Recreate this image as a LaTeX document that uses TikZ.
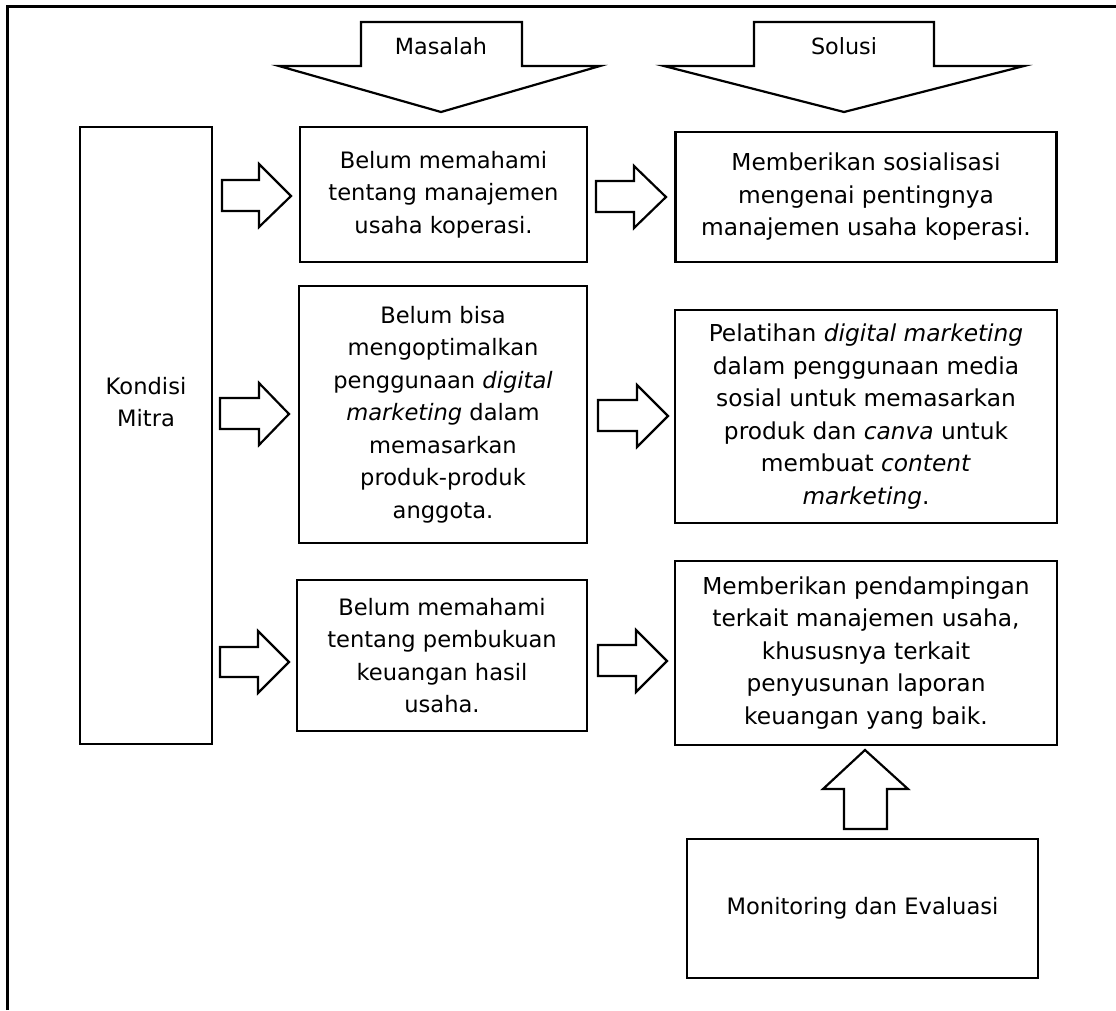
\documentclass[tikz,border=0pt]{standalone}
\usepackage{fontspec}
\setmainfont{DejaVu Sans}
\newcommand{\mfont}{\fontsize{22.6pt}{32.5pt}\selectfont}
\newcommand{\sfontx}{\fontsize{23.3pt}{32.5pt}\selectfont}
\newcommand{\lfont}{\fontsize{22.3pt}{26pt}\selectfont}
\begin{document}
\begin{tikzpicture}[x=1pt,y=-1pt,
  box/.style={draw, line width=2.2pt, align=center, inner sep=0pt},
  barrow/.style={draw, line width=2.2pt, fill=white, line join=miter},
  frame/.style={line width=3pt}]
\useasboundingbox (0,0) rectangle (1116,1010);
% outer frame (top and left only)
\draw[frame] (7,1010) -- (7,6) -- (1116,6);

% top block arrows
\draw[barrow] (361,22) -- (522,22) -- (522,66) -- (600,66) -- (441,112) -- (279,66) -- (361,66) -- cycle;
\node[font=\lfont] (lm) at (441,46) {Masalah};
\draw[barrow] (754,22) -- (934,22) -- (934,66) -- (1024,66) -- (844,112) -- (664,66) -- (754,66) -- cycle;
\node[font=\lfont] (ls) at (844,46) {Solusi};

% boxes
\node[box, minimum width=132pt, minimum height=617pt] (k) at (146,435.5) {};
\node[font=\mfont, align=center] (kt) at (146,402) {Kondisi\\Mitra};

\node[box, font=\mfont, minimum width=287pt, minimum height=135pt] (m1) at (443.5,194.5)
  {Belum memahami\\tentang manajemen\\usaha koperasi.};
\node[box, font=\mfont, minimum width=288pt, minimum height=257pt] (m2) at (443,414.5)
  {Belum bisa\\mengoptimalkan\\penggunaan \textit{digital}\\\textit{marketing} dalam\\memasarkan\\produk-produk\\anggota.};
\node[box, font=\mfont, minimum width=290pt, minimum height=151pt] (m3) at (442,655.5)
  {Belum memahami\\tentang pembukuan\\keuangan hasil\\usaha.};

\node[box, font=\sfontx, minimum width=381pt, minimum height=130pt] (s1) at (866,197)
  {Memberikan sosialisasi\\mengenai pentingnya\\manajemen usaha koperasi.};
\node[box, font=\sfontx, minimum width=382pt, minimum height=213pt] (s2) at (866,416.5)
  {Pelatihan \textit{digital marketing}\\dalam penggunaan media\\sosial untuk memasarkan\\produk dan \textit{canva} untuk\\membuat \textit{content}\\\textit{marketing}.};
\node[box, font=\sfontx, minimum width=382pt, minimum height=184pt] (s3) at (866,653)
  {Memberikan pendampingan\\terkait manajemen usaha,\\khususnya terkait\\penyusunan laporan\\keuangan yang baik.};

\node[box, font=\mfont, minimum width=351pt, minimum height=139pt] (mon) at (862.5,908.5)
  {Monitoring dan Evaluasi};

% right-pointing block arrows: Kondisi -> Masalah
\draw[barrow] (222,180) -- (259,180) -- (259,164) -- (291,196) -- (259,227) -- (259,211) -- (222,211) -- cycle;
\draw[barrow] (220,398) -- (259,398) -- (259,383) -- (289,414) -- (259,445) -- (259,429) -- (220,429) -- cycle;
\draw[barrow] (220,647) -- (258,647) -- (258,631) -- (289,662) -- (258,693) -- (258,677) -- (220,677) -- cycle;

% Masalah -> Solusi
\draw[barrow] (596,181) -- (634,181) -- (634,166) -- (666,197) -- (634,228) -- (634,212) -- (596,212) -- cycle;
\draw[barrow] (598,400) -- (637,400) -- (637,385) -- (668,416) -- (637,447) -- (637,431) -- (598,431) -- cycle;
\draw[barrow] (598,645) -- (636,645) -- (636,630) -- (667,661) -- (636,692) -- (636,676) -- (598,676) -- cycle;

% Monitoring -> s3 (up arrow)
\draw[barrow] (844,829) -- (844,789) -- (823,789) -- (865,750) -- (908,789) -- (887,789) -- (887,829) -- cycle;
\end{tikzpicture}
\end{document}
